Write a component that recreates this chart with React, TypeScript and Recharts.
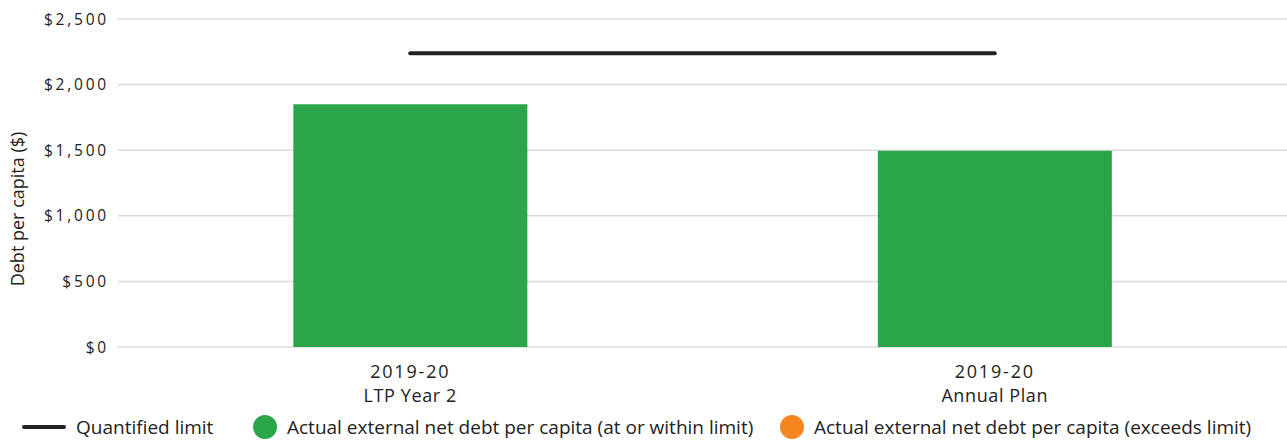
import React from "react";
import { ComposedChart, Bar, Line, XAxis, YAxis, CartesianGrid, Legend, Cell } from "recharts";

// Reporting periods shown along the x axis (two-line labels)
const periods = ["2019-20", "2019-20"];
const planNames = ["LTP Year 2", "Annual Plan"];

// External net debt per capita, actual vs quantified limit ($)
const actualDebt = [1850, 1495];
const quantifiedLimit = [2238, 2238];

const yTicks = [0, 500, 1000, 1500, 2000, 2500];

const legendLabels = [
  "Quantified limit",
  "Actual external net debt per capita (at or within limit)",
  "Actual external net debt per capita (exceeds limit)",
];

const GREEN = "#2aa54a";
const ORANGE = "#f6861f";
const INK = "#222222";
const FONT = "'Open Sans', Lato, sans-serif";
const WEIGHT = 500;

const data = periods.map((p, i) => ({
  key: `${p} ${planNames[i]}`,
  period: p,
  plan: planNames[i],
  actual: actualDebt[i],
  limit: quantifiedLimit[i],
}));

const formatDollar = (v: number) => `$${v.toLocaleString("en-US")}`;

function CategoryTick(props: any) {
  const { x, y, payload, index } = props;
  return (
    <g>
      <text
        x={x}
        y={y + 23}
        textAnchor="middle"
        fill={INK}
        fontFamily={FONT}
        fontWeight={WEIGHT}
        fontSize={18}
      >
        <tspan x={x} dy={0} style={{ letterSpacing: "1.8px" }}>
          {periods[index] ?? ""}
        </tspan>
        <tspan x={x} dy={24} style={{ letterSpacing: "0.6px" }}>
          {planNames[index] ?? payload.value}
        </tspan>
      </text>
    </g>
  );
}

function YAxisTitle(props: any) {
  const { viewBox } = props;
  const cx = 17;
  const cy = viewBox.y + viewBox.height / 2 + 26;
  return (
    <text
      x={cx}
      y={cy}
      transform={`rotate(-90, ${cx}, ${cy})`}
      textAnchor="middle"
      dominantBaseline="central"
      fill={INK}
      fontFamily={FONT}
      fontWeight={WEIGHT}
      fontSize={18}
    >
      Debt per capita ($)
    </text>
  );
}

function ChartLegend() {
  const itemStyle: React.CSSProperties = {
    position: "absolute",
    top: 3,
    height: 24,
    display: "flex",
    alignItems: "center",
    fontFamily: FONT,
    fontWeight: WEIGHT,
    fontSize: 19,
    color: INK,
    whiteSpace: "nowrap",
  };
  const dot = (color: string) => (
    <span
      style={{
        display: "inline-block",
        width: 24,
        height: 24,
        borderRadius: 12,
        background: color,
        marginRight: 10,
      }}
    />
  );
  return (
    <div style={{ position: "relative", height: 30 }}>
      <div style={{ ...itemStyle, left: 22 }}>
        <svg width={44} height={6} style={{ marginRight: 10 }}>
          <line x1={2} y1={3} x2={42} y2={3} stroke={INK} strokeWidth={4} strokeLinecap="round" />
        </svg>
        {legendLabels[0]}
      </div>
      <div style={{ ...itemStyle, left: 253 }}>
        {dot(GREEN)}
        {legendLabels[1]}
      </div>
      <div style={{ ...itemStyle, left: 780 }}>
        {dot(ORANGE)}
        {legendLabels[2]}
      </div>
    </div>
  );
}

export default function App() {
  return (
    <div
      style={{
        position: "fixed",
        left: 0,
        top: 0,
        width: 1287,
        height: 442,
        background: "#fff",
      }}
    >
      <ComposedChart
        width={1287}
        height={442}
        data={data}
        margin={{ top: 19, right: 0, bottom: 0, left: 0 }}
        barCategoryGap="30%"
      >
        <CartesianGrid vertical={false} stroke="#dcdcdc" strokeWidth={1.5} />
        <XAxis
          dataKey="key"
          axisLine={false}
          tickLine={false}
          interval={0}
          height={65}
          tick={<CategoryTick />}
        />
        <YAxis
          domain={[0, 2500]}
          ticks={yTicks}
          axisLine={false}
          tickLine={false}
          width={118}
          tickSize={0}
          tickMargin={9}
          tickFormatter={formatDollar}
          tick={
            {
              fill: INK,
              fontFamily: FONT,
              fontWeight: WEIGHT,
              fontSize: 15.5,
              letterSpacing: "2.8px",
            } as any
          }
          label={<YAxisTitle />}
        />
        <Bar dataKey="actual" isAnimationActive={false}>
          {data.map((d, i) => (
            <Cell key={i} fill={d.actual > d.limit ? ORANGE : GREEN} />
          ))}
        </Bar>
        <Line
          dataKey="limit"
          stroke={INK}
          strokeWidth={4}
          strokeLinecap="round"
          dot={false}
          activeDot={false}
          isAnimationActive={false}
        />
        <Legend verticalAlign="bottom" height={30} content={<ChartLegend />} />
      </ComposedChart>
    </div>
  );
}
